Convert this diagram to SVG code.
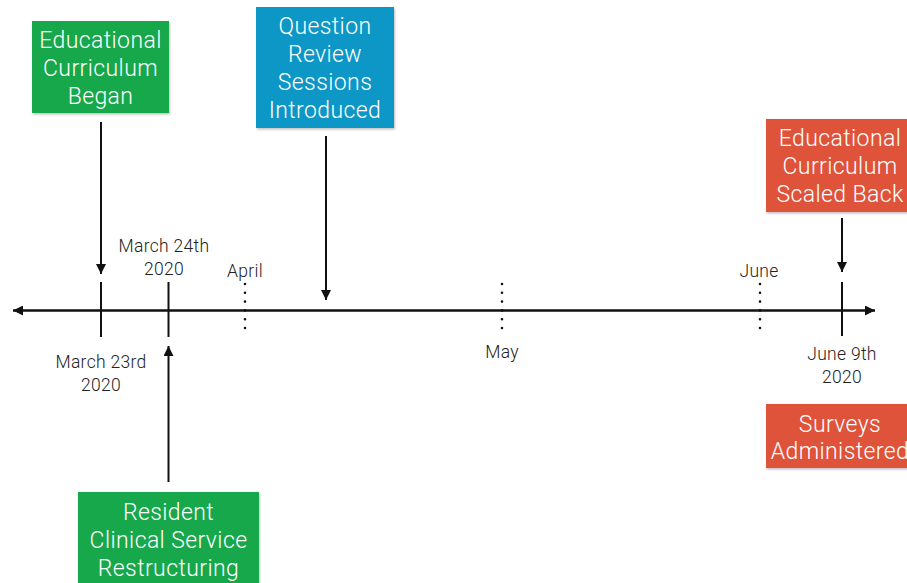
<svg xmlns="http://www.w3.org/2000/svg" width="907" height="583" viewBox="0 0 907 583">
<defs>
<marker id="ah" viewBox="0 0 10 10" refX="10" refY="5" markerWidth="10" markerHeight="10" markerUnits="userSpaceOnUse" orient="auto">
<path d="M0,0 L10,5 L0,10 Z" fill="#111"/>
</marker>
<filter id="sh" x="-10%" y="-10%" width="130%" height="130%">
<feDropShadow dx="1" dy="1.5" stdDeviation="1.2" flood-color="#000" flood-opacity="0.25"/>
</filter>
</defs>
<style>
.box{filter:url(#sh)}
.bt{font-family:Roboto,"Liberation Sans",sans-serif;font-weight:300;font-size:23px;letter-spacing:0.4px;fill:#fff;text-anchor:middle}
.lb{font-family:Roboto,"Liberation Sans",sans-serif;font-weight:300;font-size:17.5px;letter-spacing:0.3px;fill:#222;text-anchor:middle}
.ln{stroke:#111;stroke-width:2;fill:none}
.dot{stroke:#111;stroke-width:2.6;stroke-linecap:round;stroke-dasharray:0 8.8;fill:none}
</style>
<rect width="907" height="583" fill="#fff"/>

<g id="connectors">
<line class="ln" x1="875" y1="310.5" x2="13" y2="310.5" marker-end="url(#ah)"/>
<line class="ln" x1="13" y1="310.5" x2="875" y2="310.5" marker-end="url(#ah)"/>
<line class="ln" x1="101" y1="282" x2="101" y2="337"/>
<line class="ln" x1="168.5" y1="282" x2="168.5" y2="337"/>
<line class="ln" x1="842" y1="282" x2="842" y2="336"/>
<line class="dot" x1="245" y1="284" x2="245" y2="329"/>
<line class="dot" x1="502" y1="284" x2="502" y2="329"/>
<line class="dot" x1="760" y1="284" x2="760" y2="329"/>
<line class="ln" x1="101" y1="122" x2="101" y2="274" marker-end="url(#ah)"/>
<line class="ln" x1="326" y1="136" x2="326" y2="300" marker-end="url(#ah)"/>
<line class="ln" x1="842" y1="218" x2="842" y2="272" marker-end="url(#ah)"/>
<line class="ln" x1="168.5" y1="482" x2="168.5" y2="346" marker-end="url(#ah)"/>
</g>

<g id="labels">
<text class="lb" x="164" y="252">March 24th</text>
<text class="lb" x="164" y="275">2020</text>
<text class="lb" x="245" y="277">April</text>
<text class="lb" x="759" y="277">June</text>
<text class="lb" x="502" y="358">May</text>
<text class="lb" x="101" y="368">March 23rd</text>
<text class="lb" x="101" y="391">2020</text>
<text class="lb" x="842" y="360">June 9th</text>
<text class="lb" x="842" y="383">2020</text>
</g>

<g id="node-edu-began">
<rect class="box" x="32" y="21" width="137" height="92" fill="#12a84b"/>
<text class="bt" x="100.5" y="48">Educational</text>
<text class="bt" x="100.5" y="76">Curriculum</text>
<text class="bt" x="100.5" y="104">Began</text>
</g>

<g id="node-question-review">
<rect class="box" x="256" y="7" width="138" height="121" fill="#0f97c6"/>
<text class="bt" x="325" y="34">Question</text>
<text class="bt" x="325" y="62">Review</text>
<text class="bt" x="325" y="90">Sessions</text>
<text class="bt" x="325" y="118">Introduced</text>
</g>

<g id="node-edu-scaled">
<rect class="box" x="766" y="119" width="150" height="93" fill="#df533a"/>
<text class="bt" x="840" y="146">Educational</text>
<text class="bt" x="840" y="174">Curriculum</text>
<text class="bt" x="840" y="202">Scaled Back</text>
</g>

<g id="node-surveys">
<rect class="box" x="766" y="404" width="150" height="64" fill="#df533a"/>
<text class="bt" x="840" y="432">Surveys</text>
<text class="bt" x="840" y="459">Administered</text>
</g>

<g id="node-resident">
<rect class="box" x="78" y="492" width="181" height="100" fill="#12a84b"/>
<text class="bt" x="168.5" y="520">Resident</text>
<text class="bt" x="168.5" y="548">Clinical Service</text>
<text class="bt" x="168.5" y="576">Restructuring</text>
</g>
</svg>
